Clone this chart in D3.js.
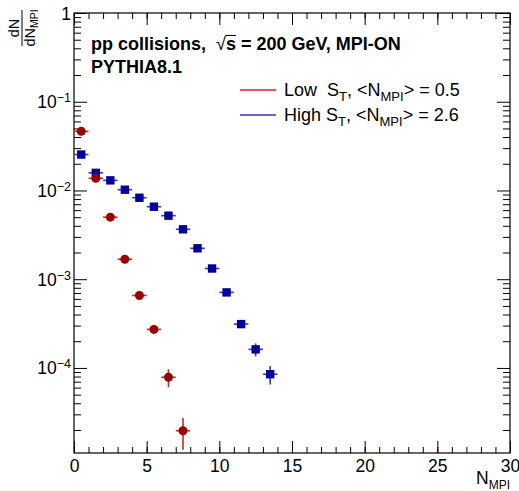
<!DOCTYPE html>
<html>
<head>
<meta charset="utf-8">
<script src="https://cdn.jsdelivr.net/npm/d3@7"></script>
<style>
  body { margin: 0; background: #fff; }
  svg { display: block; font-family: "Liberation Sans", Arial, sans-serif; }
  text { white-space: pre; }
</style>
</head>
<body>
<script>
// Bin centres of N_MPI
var binCenters = [0.5, 1.5, 2.5, 3.5, 4.5, 5.5, 6.5, 7.5, 8.5, 9.5, 10.5, 11.5, 12.5, 13.5];

// Low S_T sample, <N_MPI> = 0.5
var lowValues = [0.0464, 0.0137, 0.0050, 0.00168, 0.000656, 0.000272, 0.0000785, 0.0000196];
var lowErrors = [0.0004, 0.0002, 0.00008, 0.00003, 0.000015, 0.000008, 0.000018, 0.0000076];

// High S_T sample, <N_MPI> = 2.6
var highValues = [0.0254, 0.0158, 0.0130, 0.0102, 0.00828, 0.00656, 0.0052, 0.00365, 0.00223, 0.00132, 0.00071, 0.000312, 0.000162, 0.000085];
var highErrors = [0.0002, 0.00015, 0.00012, 0.0001, 0.00008, 0.00007, 0.00006, 0.00005, 0.00004, 0.00003, 0.00002, 0.000022, 0.000027, 0.00002];

// Axis ticks
var xMajorTicks = [0, 5, 10, 15, 20, 25, 30];
var yMajorTicks = [1, 1e-1, 1e-2, 1e-3, 1e-4];
var yTickExponents = ["0", "−1", "−2", "−3", "−4"];

var legendLabels = ["Low  S", "High S"];
var legendMeans = ["0.5", "2.6"];

// SVG area
var svgWidth = 519;
var svgHeight = 491;

var margin = { top: 13, right: 9, bottom: 38, left: 74 };
var chartWidth = svgWidth - margin.left - margin.right;
var chartHeight = svgHeight - margin.top - margin.bottom;

var svg = d3.select("body")
  .append("svg")
  .attr("width", svgWidth)
  .attr("height", svgHeight);

var chartGroup = svg.append("g")
  .attr("transform", `translate(${margin.left}, ${margin.top})`);

var xScale = d3.scaleLinear()
  .domain([0, 30])
  .range([0, chartWidth]);

var yScale = d3.scaleLog()
  .domain([1.1e-5, 1])
  .range([chartHeight, 0]);

// minor tick values
var xMinorTicks = d3.range(0, 31, 1);
var yMinorTicks = [];
[1e-5, 1e-4, 1e-3, 1e-2, 1e-1].forEach(function(d) {
  for (var k = 2; k <= 9; k++) {
    var v = d * k;
    if (v >= 1.1e-5 && v < 1) yMinorTicks.push(v);
  }
});

function styleAxis(g) {
  g.select(".domain").remove();
  g.selectAll(".tick line").attr("stroke", "#000").attr("stroke-width", 1);
}

// x axis bottom (major with labels)
chartGroup.append("g")
  .attr("transform", `translate(0, ${chartHeight})`)
  .call(d3.axisBottom(xScale).tickValues(xMajorTicks).tickSize(-12).tickPadding(7))
  .call(styleAxis)
  .selectAll("text")
  .attr("font-size", 17.5)
  .attr("font-family", "Liberation Sans, Arial, sans-serif")
  .attr("fill", "#000");

chartGroup.append("g")
  .attr("transform", `translate(0, ${chartHeight})`)
  .call(d3.axisBottom(xScale).tickValues(xMinorTicks).tickSize(-6).tickFormat(""))
  .call(styleAxis);

// x axis top
chartGroup.append("g")
  .call(d3.axisTop(xScale).tickValues(xMajorTicks).tickSize(-12).tickFormat(""))
  .call(styleAxis);
chartGroup.append("g")
  .call(d3.axisTop(xScale).tickValues(xMinorTicks).tickSize(-6).tickFormat(""))
  .call(styleAxis);

// y axis left
chartGroup.append("g")
  .call(d3.axisLeft(yScale).tickValues(yMajorTicks).tickSize(-13).tickFormat(""))
  .call(styleAxis);
chartGroup.append("g")
  .call(d3.axisLeft(yScale).tickValues(yMinorTicks).tickSize(-7).tickFormat(""))
  .call(styleAxis);

// y axis right
chartGroup.append("g")
  .attr("transform", `translate(${chartWidth}, 0)`)
  .call(d3.axisRight(yScale).tickValues(yMajorTicks).tickSize(-13).tickFormat(""))
  .call(styleAxis);
chartGroup.append("g")
  .attr("transform", `translate(${chartWidth}, 0)`)
  .call(d3.axisRight(yScale).tickValues(yMinorTicks).tickSize(-7).tickFormat(""))
  .call(styleAxis);

// y tick labels: 1, 10^-1 ...
yMajorTicks.forEach(function(v, i) {
  var t = chartGroup.append("text")
    .attr("x", -3)
    .attr("y", yScale(v) + 6.5)
    .attr("text-anchor", "end")
    .attr("font-size", 17.5)
    .attr("fill", "#000");
  if (i === 0) {
    t.text("1");
  } else {
    t.append("tspan").text("10");
    t.append("tspan").attr("dy", -6).attr("font-size", 12.5).text(yTickExponents[i]);
  }
});

// frame
chartGroup.append("rect")
  .attr("x", 0)
  .attr("y", 0)
  .attr("width", chartWidth)
  .attr("height", chartHeight)
  .attr("fill", "none")
  .attr("stroke", "#000")
  .attr("stroke-width", 1.2);

// clip for error bars
chartGroup.append("clipPath")
  .attr("id", "frame-clip")
  .append("rect")
  .attr("width", chartWidth)
  .attr("height", chartHeight);

var plotArea = chartGroup.append("g").attr("clip-path", "url(#frame-clip)");

function drawSeries(values, errors, barColor, markColor, shape) {
  var pts = values.map(function(v, i) {
    return { x: binCenters[i], y: v, e: errors[i] };
  });
  var g = plotArea.append("g");
  // horizontal bars (bin width)
  g.selectAll(".hbar")
    .data(pts)
    .enter()
    .append("line")
    .attr("x1", d => xScale(d.x - 0.5))
    .attr("x2", d => xScale(d.x + 0.5))
    .attr("y1", d => yScale(d.y))
    .attr("y2", d => yScale(d.y))
    .attr("stroke", barColor)
    .attr("stroke-width", 1.6);
  // vertical error bars
  g.selectAll(".vbar")
    .data(pts)
    .enter()
    .append("line")
    .attr("x1", d => xScale(d.x))
    .attr("x2", d => xScale(d.x))
    .attr("y1", d => yScale(Math.max(d.y - d.e, 1e-7)))
    .attr("y2", d => yScale(d.y + d.e))
    .attr("stroke", barColor)
    .attr("stroke-width", 1.6);
  if (shape === "circle") {
    g.selectAll(".mark")
      .data(pts)
      .enter()
      .append("circle")
      .attr("cx", d => xScale(d.x))
      .attr("cy", d => yScale(d.y))
      .attr("r", 4.5)
      .attr("fill", markColor);
  } else {
    g.selectAll(".mark")
      .data(pts)
      .enter()
      .append("rect")
      .attr("x", d => xScale(d.x) - 4.2)
      .attr("y", d => yScale(d.y) - 4.2)
      .attr("width", 8.4)
      .attr("height", 8.4)
      .attr("fill", markColor);
  }
}

drawSeries(highValues, highErrors, "#3838b8", "#000099", "square");
drawSeries(lowValues, lowErrors, "#b83030", "#990000", "circle");

// header text
var title = svg.append("text")
  .attr("x", 91)
  .attr("y", 49.5)
  .attr("font-size", 18)
  .attr("font-weight", "bold")
  .attr("fill", "#000");
title.append("tspan").text("pp collisions,  ");
title.append("tspan").attr("font-weight", "normal").text("√");
title.append("tspan").text("s = 200 GeV, MPI-ON");

// overline above the s of sqrt(s)
var sIndex = "pp collisions,  √".length;
var tn = title.node();
var rStart = tn.getEndPositionOfChar(sIndex - 1);
var sEnd = tn.getEndPositionOfChar(sIndex);
svg.append("line")
  .attr("x1", rStart.x - 0.5)
  .attr("x2", sEnd.x)
  .attr("y1", 35.5)
  .attr("y2", 35.5)
  .attr("stroke", "#000")
  .attr("stroke-width", 1);

svg.append("text")
  .attr("x", 91)
  .attr("y", 73)
  .attr("font-size", 18)
  .attr("font-weight", "bold")
  .attr("fill", "#000")
  .text("PYTHIA8.1");

// legend
var legendColors = ["#cc2a2a", "#3434a8"];
legendLabels.forEach(function(label, i) {
  var ly = 90 + i * 25;
  svg.append("line")
    .attr("x1", 240)
    .attr("x2", 276)
    .attr("y1", ly)
    .attr("y2", ly)
    .attr("stroke", legendColors[i])
    .attr("stroke-width", 1.5);
  var t = svg.append("text")
    .attr("x", 284)
    .attr("y", ly + 6)
    .attr("font-size", 18)
    .attr("fill", "#000");
  t.append("tspan").text(label);
  t.append("tspan").attr("dy", 5).attr("font-size", 13).text("T");
  t.append("tspan").attr("dy", -5).text(", <N");
  t.append("tspan").attr("dy", 5).attr("font-size", 13).text("MPI");
  t.append("tspan").attr("dy", -5).text("> = " + legendMeans[i]);
});

// x axis title
var xTitle = svg.append("text")
  .attr("x", 510)
  .attr("y", 484)
  .attr("text-anchor", "end")
  .attr("font-size", 17.5)
  .attr("fill", "#000");
xTitle.append("tspan").text("N");
xTitle.append("tspan").attr("dy", 5).attr("font-size", 12).text("MPI");

// y axis title: dN / dN_MPI, rotated
var yTitle = svg.append("g")
  .attr("transform", "translate(22, 28) rotate(-90)");
yTitle.append("line")
  .attr("x1", -18)
  .attr("x2", 18)
  .attr("y1", 0)
  .attr("y2", 0)
  .attr("stroke", "#000")
  .attr("stroke-width", 1);
yTitle.append("text")
  .attr("x", 0)
  .attr("y", -3)
  .attr("text-anchor", "middle")
  .attr("font-size", 14.5)
  .attr("fill", "#000")
  .text("dN");
var den = yTitle.append("text")
  .attr("x", 0)
  .attr("y", 12.5)
  .attr("text-anchor", "middle")
  .attr("font-size", 14.5)
  .attr("fill", "#000");
den.append("tspan").text("dN");
den.append("tspan").attr("dy", 3).attr("font-size", 10.5).text("MPI");
</script>
</body>
</html>
